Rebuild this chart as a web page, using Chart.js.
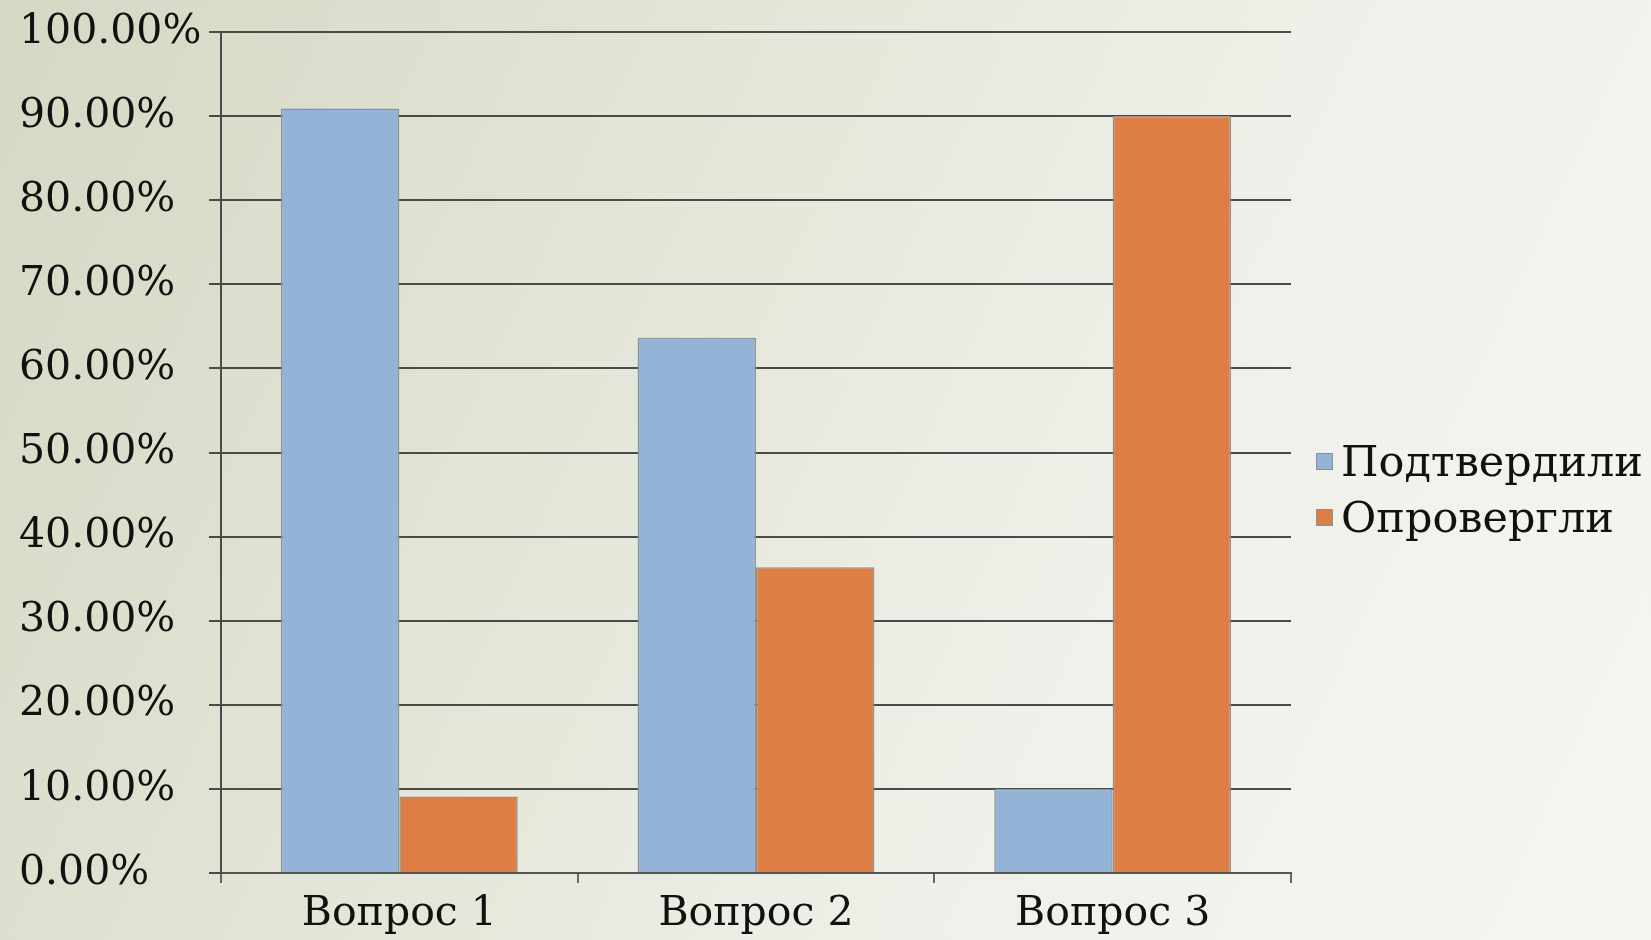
<!DOCTYPE html>
<html>
<head>
<meta charset="utf-8">
<script src="https://cdn.jsdelivr.net/npm/chart.js@4/dist/chart.umd.min.js"></script>
<style>
  html, body { margin: 0; padding: 0; }
  body {
    width: 1651px; height: 940px; overflow: hidden; position: relative;
    background: linear-gradient(115deg, #d5d8c3 0%, #e3e5d7 35%, #eff0e9 65%, #f5f6f1 100%);
  }
  #wrap { position: absolute; left: 0; top: 0; width: 1651px; height: 940px; }
  #legend { position: absolute; left: 1316px; top: 433px; font-family: "DejaVu Serif", serif; font-size: 43px; color: #111; }
  .row { display: flex; align-items: center; height: 56px; white-space: nowrap; }
  .box { width: 15px; height: 15px; border: 1px solid #8f9090; margin-right: 8px; }
</style>
</head>
<body>
<div id="wrap"><canvas id="chart"></canvas></div>
<div id="legend"></div>
<script>
const categories = ['Вопрос 1', 'Вопрос 2', 'Вопрос 3'];
const seriesNames = ['Подтвердили', 'Опровергли'];
const confirmed = [0.9091, 0.6364, 0.10];
const refuted = [0.0909, 0.3636, 0.90];
const yTicks = [0, 0.1, 0.2, 0.3, 0.4, 0.5, 0.6, 0.7, 0.8, 0.9, 1.0];

const colors = ['#93b4d6', '#de7e44'];
const font = { family: 'DejaVu Serif', size: 41 };

const chart = new Chart(document.getElementById('chart'), {
  type: 'bar',
  data: {
    labels: categories,
    datasets: [
      { label: seriesNames[0], data: confirmed, backgroundColor: colors[0], borderColor: '#8c9294', borderWidth: 1.5 },
      { label: seriesNames[1], data: refuted, backgroundColor: colors[1], borderColor: '#8c9294', borderWidth: 1.5 }
    ]
  },
  options: {
    responsive: true,
    maintainAspectRatio: false,
    animation: false,
    categoryPercentage: 0.664,
    barPercentage: 1.0,
    layout: { padding: { left: 19, right: 360, top: 32, bottom: 0 } },
    plugins: { legend: { display: false }, tooltip: { enabled: false } },
    scales: {
      x: {
        afterFit: s => { s.height = 67; },
        grid: { offset: true, drawOnChartArea: false, drawTicks: true, tickLength: 10, color: '#666', lineWidth: 2 },
        border: { display: true, color: '#555', width: 2 },
        ticks: { color: '#111', font: font, padding: 7 }
      },
      y: {
        min: 0, max: 1,
        afterFit: s => { s.width = 202; },
        afterBuildTicks: s => { s.ticks = yTicks.map(v => ({ value: v })); },
        grid: { color: '#4a4a4a', lineWidth: 2, tickLength: 12 },
        border: { display: true, color: '#4a4a4a', width: 2 },
        ticks: {
          color: '#111', font: font, padding: 3, crossAlign: 'far',
          callback: v => (v * 100).toFixed(2) + '%'
        }
      }
    }
  }
});

// legend from the datasets
const legend = document.getElementById('legend');
chart.data.datasets.forEach(ds => {
  const row = document.createElement('div');
  row.className = 'row';
  const box = document.createElement('div');
  box.className = 'box';
  box.style.background = ds.backgroundColor;
  const txt = document.createElement('span');
  txt.textContent = ds.label;
  row.appendChild(box);
  row.appendChild(txt);
  legend.appendChild(row);
});
</script>
</body>
</html>
